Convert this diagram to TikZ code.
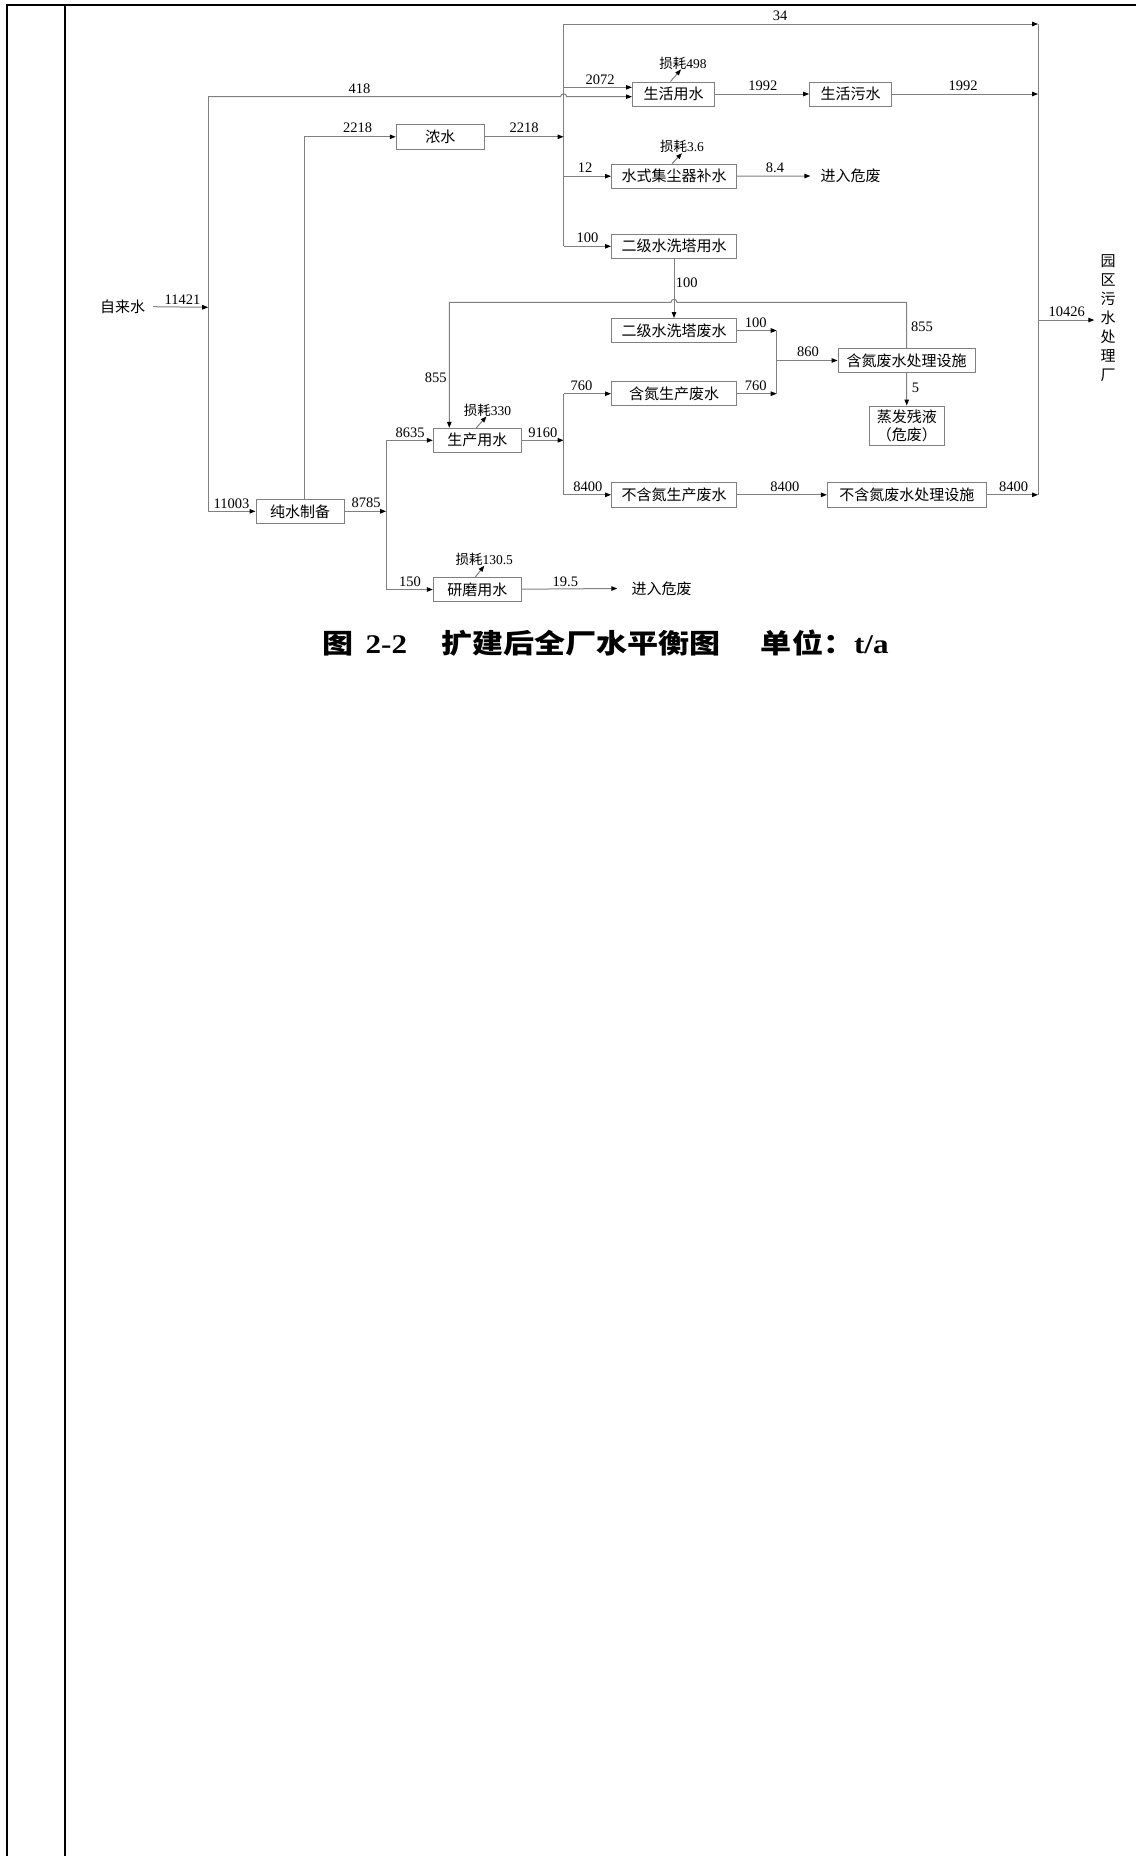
\documentclass[tikz,border=0pt]{standalone}
\usepackage{fontspec}
\usepackage{graphicx}
\setmainfont{Liberation Serif}
\newfontfamily\cjk{Noto Sans CJK SC}
\usetikzlibrary{arrows.meta}

\begin{document}
\begin{tikzpicture}[x=1pt, y=-1pt,
  box/.style={draw=black!50, line width=1pt, inner sep=0pt, minimum height=24pt, font=\cjk\fontsize{15}{18}\selectfont},
  lbl/.style={inner sep=0pt, font=\fontsize{14.5}{16}\selectfont},
  loss/.style={inner sep=0pt, font=\fontsize{13.5}{15}\selectfont},
  ln/.style={draw=black!50, line width=1pt},
  arr/.style={ln, -{Triangle[length=6pt, width=4.5pt, color=black]}},
  frm/.style={draw=black, line width=1.6pt}]
\useasboundingbox (0, 0) rectangle (1136, 1856);

\draw (7, 1856) -- (7, 5) -- (1136, 5) [frm];
\draw (65, 5) -- (65, 1856) [frm];

\node (zls) at (122.5, 306.7) [inner sep=0pt, font=\cjk\fontsize{15}{18}\selectfont] {自来水};
\node (csz) at (300, 511.3) [box, minimum width=88pt] {纯水制备};
\node (ns) at (440.3, 136.8) [box, minimum width=88pt, minimum height=25pt] {浓水};
\node (shys) at (673.5, 94) [box, minimum width=82pt] {生活用水};
\node (shws) at (850.6, 94) [box, minimum width=82pt] {生活污水};
\node (jcq) at (674, 176.2) [box, minimum width=125pt] {水式集尘器补水};
\node (ejyy) at (674, 246.3) [box, minimum width=125pt] {二级水洗塔用水};
\node (ejfs) at (674, 330.5) [box, minimum width=125pt] {二级水洗塔废水};
\node (hdfs) at (674, 393.7) [box, minimum width=125pt] {含氮生产废水};
\node (bhfs) at (674, 494.8) [box, minimum width=125pt, minimum height=25pt] {不含氮生产废水};
\node (hdcl) at (906.6, 360.5) [box, minimum width=137pt] {含氮废水处理设施};
\node (zfcy) at (906.8, 425.5) [box, minimum width=75pt, minimum height=39pt, align=center] {蒸发残液\\（危废）};
\node (bhcl) at (906.9, 494.8) [box, minimum width=159pt, minimum height=25pt] {不含氮废水处理设施};
\node (scys) at (477.3, 440.3) [box, minimum width=88pt] {生产用水};
\node (ymys) at (477.3, 589.5) [box, minimum width=88pt] {研磨用水};
\node (wf1) at (850.6, 176) [inner sep=0pt, font=\cjk\fontsize{15}{18}\selectfont] {进入危废};
\node (wf2) at (661.5, 588.5) [inner sep=0pt, font=\cjk\fontsize{15}{18}\selectfont] {进入危废};
\node (yq) at (1108, 318.3) [inner sep=0pt, align=center, font=\cjk\fontsize{15}{18.9}\selectfont] {园\\区\\污\\水\\处\\理\\厂};

\node (l1) at (683, 63) [loss] {{\cjk 损耗}498};
\node (l2) at (682, 146.7) [loss] {{\cjk 损耗}3.6};
\node (l3) at (487.5, 410) [loss] {{\cjk 损耗}330};
\node (l4) at (484.3, 559.3) [loss] {{\cjk 损耗}130.5};

\coordinate (t1) at (208.2, 96.7);
\coordinate (t2) at (208.2, 511.3);
\coordinate (j1) at (208.2, 307.3);
\coordinate (x1) at (560.6, 96.7);
\coordinate (m1) at (563.6, 24);
\coordinate (m4) at (563.6, 87.3);
\coordinate (m3) at (563.6, 136.8);
\coordinate (r1) at (1038, 24);
\coordinate (c1) at (304, 136.8);
\coordinate (p0) at (386.1, 511.3);
\coordinate (k0) at (776.7, 360.5);
\coordinate (h1) at (907, 302.3);
\coordinate (x2) at (677, 302.3);
\coordinate (h2) at (449.3, 302.3);

\draw (m1) -- (m1 |- ejyy) [ln];
\draw (m1) -- (r1) [arr];
\draw (r1) -- (r1 |- bhcl) [ln];
\draw (t1) -- (t2) [ln];
\draw ([xshift=8]zls.east) -- (j1) [arr];
\draw (t1) -- (x1) arc (180:360:3) -- (shys.west |- t1) [arr];
\draw (t2) -- (csz) [arr];
\draw (csz.north -| c1) -- (c1) -- (ns) [arr];
\draw (ns) -- (m3) [arr];
\draw (m4) -- (shys.west |- m4) [arr];
\draw (m1 |- jcq) -- (jcq) [arr];
\draw (m1 |- ejyy) -- (ejyy) [arr];
\draw (shys) -- (shws) [arr];
\draw (shws) -- (r1 |- shws) [arr];
\draw (jcq) -- ([xshift=-10]wf1.west) [arr];
\draw (ejyy) -- (ejfs) [arr];
\draw (hdcl.north) -- (hdcl.north |- h1) -- (x2) arc (0:-180:3) -- (h2) -- (scys.north -| h2) [arr];
\draw (ejfs) -- (ejfs -| k0) [arr];
\draw (hdfs) -- (hdfs -| k0) [arr];
\draw (ejfs -| k0) -- (hdfs -| k0) [ln];
\draw (k0) -- (hdcl) [arr];
\draw (hdcl) -- (zfcy) [arr];
\draw (csz) -- (p0) [arr];
\draw (p0 |- scys) -- (p0 |- ymys) [ln];
\draw (p0 |- scys) -- (scys) [arr];
\draw (p0 |- ymys) -- (ymys) [arr];
\draw (scys) -- (scys -| m1) [arr];
\draw (m1 |- hdfs) -- (m1 |- bhfs) [ln];
\draw (m1 |- hdfs) -- (hdfs) [arr];
\draw (m1 |- bhfs) -- (bhfs) [arr];
\draw (bhfs) -- (bhcl) [arr];
\draw (bhcl) -- (r1 |- bhcl) [arr];
\draw (ymys) -- ([xshift=-14]wf2.west) [arr];
\draw (r1 |- 0, 320) -- ([xshift=-6]yq.west |- 0, 320) [arr];

\draw ([xshift=-3]shys.north) -- ([xshift=-2]l1.south) [arr];
\draw ([xshift=-2]jcq.north) -- (l2.south) [arr];
\draw ([xshift=-1]scys.north) -- ([xshift=-1]l3.south) [arr];
\draw ([xshift=-2]ymys.north) -- (l4.south) [arr];

\node (n34) at (780, 15.5) [lbl] {34};
\node (n418) at (359.5, 88.5) [lbl] {418};
\node (n2072) at (600, 80) [lbl] {2072};
\node (n2218a) at (357.5, 128) [lbl] {2218};
\node (n2218b) at (524, 128) [lbl] {2218};
\node (n12) at (585, 168) [lbl] {12};
\node (n100a) at (587.5, 238) [lbl] {100};
\node (n1992a) at (762.8, 86) [lbl] {1992};
\node (n1992b) at (963, 86) [lbl] {1992};
\node (n84) at (775, 168) [lbl] {8.4};
\node (n100b) at (686.7, 283) [lbl] {100};
\node (n11421) at (182.5, 300) [lbl] {11421};
\node (n10426) at (1066.7, 311.7) [lbl] {10426};
\node (n100c) at (755.8, 322.7) [lbl] {100};
\node (n855a) at (921.9, 326.7) [lbl] {855};
\node (n860) at (808, 351.7) [lbl] {860};
\node (n855b) at (435.7, 377.3) [lbl] {855};
\node (n760a) at (755.8, 386) [lbl] {760};
\node (n760b) at (581.4, 386) [lbl] {760};
\node (n5) at (915.6, 388.3) [lbl] {5};
\node (n8635) at (410, 432.3) [lbl] {8635};
\node (n9160) at (542.9, 432.7) [lbl] {9160};
\node (n8400a) at (587.9, 486.7) [lbl] {8400};
\node (n8400b) at (784.8, 486.7) [lbl] {8400};
\node (n8400c) at (1013.7, 486.7) [lbl] {8400};
\node (n8785) at (366, 502.7) [lbl] {8785};
\node (n11003) at (231.4, 503.7) [lbl] {11003};
\node (n150) at (410, 581.7) [lbl] {150};
\node (n195) at (565.4, 581.7) [lbl] {19.5};

\node (cap) at (605.4, 643.3) [inner sep=0pt, font=\bfseries\fontsize{27}{30}\selectfont] {\scalebox{1.15}[1]{{\cjk 图}\hspace{0.4em}2-2\hspace{1.1em}{\cjk 扩建后全厂水平衡图}\hspace{1.3em}{\cjk 单位：}t/a}};
\end{tikzpicture}
\end{document}
